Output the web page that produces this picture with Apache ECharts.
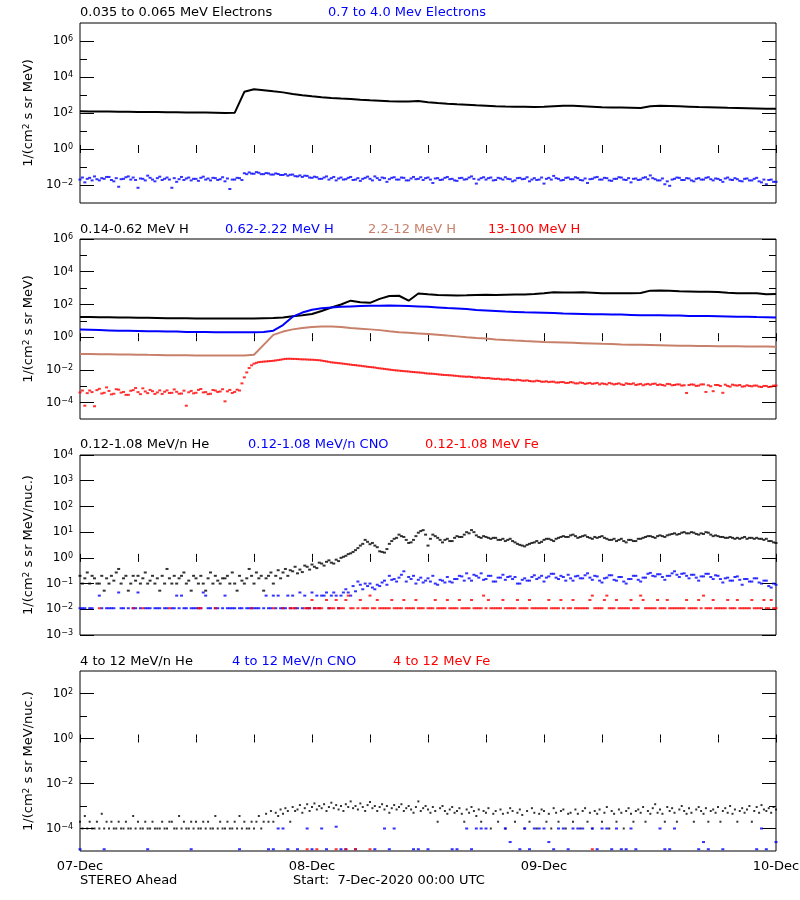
<!DOCTYPE html>
<html><head><meta charset="utf-8">
<script src="https://cdn.jsdelivr.net/npm/echarts@6/dist/echarts.min.js"></script>
<style>html,body{margin:0;padding:0;background:#fff}#c{width:800px;height:900px}</style>
</head><body><div id="c"></div>
<script>
// ---------------- DATA ----------------
// time axis: hours since 7-Dec-2020 00:00 UTC
const STEP_HOUR = 1;
const STEP_HALF = 0.5;
const STEP_QUARTER = 0.25;
const dayLabels = ['07-Dec', '08-Dec', '09-Dec', '10-Dec'];
const dayHours = [0, 24, 48, 72];

// Panel 1: electrons
const eLowFlux = [ // 0.035-0.065 MeV, hourly
  125,122,120,120,118,117,115,113,112,110,
  110,108,106,105,103,100,102,1500,2100,1850,
  1600,1400,1150,980,850,740,680,630,600,550,
  510,480,450,430,440,465,400,360,330,305,
  290,270,255,240,230,225,220,215,220,235,
  250,255,240,225,210,205,200,195,190,240,
  255,245,235,225,215,210,205,195,190,185,
  180,170,175];
const eHighFlux = [ // 0.7-4.0 MeV, quarter-hourly (rows = 3 h)
  .020,.026,.014,.022,.025,.018,.030,.021,.018,.024,.022,.028,
  .028,.019,.016,.024,.008,.021,.022,.027,.030,.020,.026,.019,
  .007,.023,.022,.018,.033,.025,.020,.016,.024,.029,.019,.022,
  .026,.020,.007,.024,.015,.021,.028,.019,.023,.026,.018,.022,
  .022,.017,.025,.029,.020,.023,.018,.025,.024,.019,.021,.027,
  .016,.023,.006,.020,.020,.025,.024,.019,.045,.040,.050,.043,
  .042,.052,.048,.040,.040,.046,.044,.038,.038,.044,.041,.036,
  .036,.040,.033,.037,.038,.031,.030,.034,.028,.033,.032,.026,
  .025,.029,.027,.022,.022,.026,.030,.020,.024,.028,.018,.023,
  .026,.020,.021,.025,.028,.019,.020,.024,.017,.022,.025,.029,
  .022,.018,.030,.024,.019,.026,.024,.015,.021,.025,.027,.020,
  .020,.026,.025,.018,.018,.023,.028,.021,.022,.027,.019,.024,
  .026,.020,.013,.023,.024,.019,.020,.025,.028,.021,.022,.018,
  .017,.024,.025,.020,.021,.026,.030,.022,.012,.020,.024,.027,
  .020,.024,.026,.018,.019,.025,.023,.020,.027,.022,.021,.016,
  .018,.024,.025,.021,.022,.027,.016,.020,.024,.019,.020,.026,
  .012,.022,.025,.020,.032,.024,.022,.018,.019,.025,.026,.021,
  .021,.027,.024,.019,.018,.023,.013,.021,.022,.026,.028,.020,
  .020,.025,.024,.018,.017,.022,.022,.027,.026,.020,.019,.024,
  .014,.022,.023,.019,.020,.025,.027,.021,.034,.024,.021,.018,
  .018,.023,.011,.016,.009,.020,.022,.026,.025,.019,.019,.024,
  .023,.018,.016,.022,.024,.020,.020,.025,.027,.021,.018,.023,
  .022,.019,.015,.023,.026,.020,.019,.024,.021,.017,.016,.022,
  .023,.018,.018,.022,.025,.016,.014,.020,.011,.019,.020,.015,
  .015];

// Panel 2: protons
const h1Flux = [ // 0.14-0.62 MeV H, hourly
  17,17,16.5,16.5,16,16,15.5,15.5,15,14.5,
  14.5,14.5,14,14,14,14,14,14,14,14.5,
  15,16,19,22,26,40,65,100,170,135,
  125,220,330,340,170,470,420,380,370,350,
  360,380,390,380,390,400,410,430,480,550,
  540,540,550,520,490,480,480,480,500,700,
  720,680,640,620,600,590,570,520,490,480,
  490,420,440];
const h2Flux = [ // 0.62-2.22 MeV H, hourly
  2.9,2.8,2.7,2.6,2.5,2.5,2.4,2.3,2.3,2.2,
  2.2,2.1,2.1,2.1,2.0,2.0,2.0,2.0,2.0,2.1,
  2.5,5.5,18,32,48,58,66,72,76,80,
  82,84,86,84,80,76,72,66,60,56,
  52,46,43,40,37,35,33,32,31,30,
  28,27,26,25,25,24,24,23,22,22,
  22,21,21,20,20,19.5,19,18.5,18,18,
  17,16.5,16];
const h3Flux = [ // 2.2-12 MeV H, hourly
  0.095,0.094,0.092,0.09,0.088,0.087,0.085,0.083,0.082,0.08,
  0.079,0.078,0.077,0.076,0.076,0.075,0.075,0.075,0.085,0.34,
  1.38,2.2,3.0,3.6,4.2,4.5,4.5,4.2,3.6,3.3,
  3.0,2.7,2.3,2.0,1.85,1.7,1.55,1.4,1.25,1.12,
  1.0,0.9,0.82,0.73,0.67,0.62,0.58,0.55,0.51,0.49,
  0.47,0.45,0.43,0.41,0.39,0.38,0.36,0.35,0.34,0.33,
  0.32,0.31,0.3,0.3,0.29,0.29,0.28,0.28,0.28,0.27,
  0.27,0.27,0.26];
const h4Flux = [ // 13-100 MeV H, quarter-hourly (rows = 3 h)
  4.2e-4,5.5e-4,6.5e-5,3.8e-4,5.5e-4,4.4e-4,6e-5,5.8e-4,7e-4,3.6e-4,4e-4,8.5e-4,
  5.2e-4,3.2e-4,3.5e-4,6.6e-4,6.2e-4,4.1e-4,4.5e-4,3.0e-4,3.0e-4,5.3e-4,5.8e-4,7.8e-4,
  4.4e-4,3.3e-4,7.5e-4,4.8e-4,3.8e-4,6.0e-4,5.0e-4,3.4e-4,4.2e-4,5.6e-4,3.4e-4,4.6e-4,
  5.6e-4,3.9e-4,4.0e-4,6.4e-4,4.6e-4,3.5e-4,3.6e-4,5.4e-4,6.5e-5,4.3e-4,5.2e-4,3.7e-4,
  4.0e-4,6.0e-4,6.8e-4,4.2e-4,4.4e-4,3.3e-4,3.5e-4,5.9e-4,5.5e-4,4.5e-4,4.8e-4,6.6e-4,
  1.2e-4,4.9e-4,6.0e-4,3.9e-4,4.5e-4,6.2e-4,5.5e-4,1.5e-3,3.5e-3,7e-3,1.3e-2,1.9e-2,
  2.4e-2,2.7e-2,3.0e-2,3.1e-2,3.2e-2,3.3e-2,3.4e-2,3.5e-2,3.6e-2,3.8e-2,4.0e-2,4.2e-2,
  4.5e-2,4.7e-2,4.8e-2,4.8e-2,4.7e-2,4.7e-2,4.6e-2,4.5e-2,4.4e-2,4.4e-2,4.3e-2,4.2e-2,
  4.2e-2,4.1e-2,4.0e-2,3.9e-2,3.7e-2,3.5e-2,3.3e-2,3.1e-2,2.9e-2,2.8e-2,2.7e-2,2.6e-2,
  2.5e-2,2.4e-2,2.3e-2,2.2e-2,2.1e-2,2.0e-2,1.95e-2,1.85e-2,1.8e-2,1.7e-2,1.65e-2,1.55e-2,
  1.5e-2,1.45e-2,1.4e-2,1.3e-2,1.25e-2,1.2e-2,1.15e-2,1.1e-2,1.05e-2,1.0e-2,9.6e-3,9.3e-3,
  9.0e-3,8.7e-3,8.4e-3,8.2e-3,8.0e-3,7.6e-3,7.4e-3,7.2e-3,7.0e-3,6.8e-3,6.6e-3,6.2e-3,
  6.0e-3,5.9e-3,5.8e-3,5.6e-3,5.4e-3,5.2e-3,5.0e-3,4.9e-3,4.8e-3,4.7e-3,4.6e-3,4.4e-3,
  4.3e-3,4.1e-3,4.0e-3,3.9e-3,3.8e-3,3.9e-3,3.7e-3,3.5e-3,3.4e-3,3.5e-3,3.3e-3,3.2e-3,
  3.1e-3,3.2e-3,3.0e-3,2.9e-3,2.8e-3,2.9e-3,2.7e-3,2.6e-3,2.6e-3,2.7e-3,2.5e-3,2.4e-3,
  2.3e-3,2.5e-3,2.4e-3,2.2e-3,2.2e-3,2.3e-3,2.1e-3,2.0e-3,2.0e-3,2.2e-3,2.1e-3,1.9e-3,
  1.9e-3,2.0e-3,1.8e-3,1.9e-3,1.9e-3,1.7e-3,1.7e-3,1.8e-3,1.8e-3,1.6e-3,1.6e-3,1.8e-3,
  1.7e-3,1.5e-3,1.5e-3,1.7e-3,1.6e-3,1.4e-3,1.5e-3,1.6e-3,1.4e-3,1.5e-3,1.6e-3,1.3e-3,
  1.5e-3,1.4e-3,1.3e-3,1.6e-3,1.45e-3,1.3e-3,1.4e-3,1.5e-3,1.3e-3,1.2e-3,1.5e-3,1.4e-3,
  1.35e-3,1.5e-3,1.2e-3,1.3e-3,1.4e-3,1.15e-3,1.3e-3,1.4e-3,1.25e-3,1.4e-3,1.45e-3,1.2e-3,
  1.3e-3,1.2e-3,1.1e-3,1.4e-3,1.35e-3,1.15e-3,1.2e-3,1.3e-3,1.3e-3,1.1e-3,1.15e-3,3.9e-4,
  1.2e-3,1.3e-3,1.25e-3,1.05e-3,1.1e-3,1.3e-3,1.3e-3,4.5e-4,1.15e-3,1.0e-3,5e-4,1.2e-3,
  1.2e-3,1.05e-3,4e-4,1.25e-3,1.05e-3,9.5e-4,1.25e-3,1.15e-3,1.1e-3,1.2e-3,9.5e-4,1.0e-3,
  1.15e-3,1.05e-3,1.0e-3,1.1e-3,1.1e-3,9.5e-4,9e-4,1.05e-3,1.05e-3,9e-4,9.5e-4,1.1e-3,
  1.1e-3];

// Panel 3: 0.12-1.08 MeV/n heavy ions, quarter-hourly (null = no count)
const heLowFlux = [
  0.2,0.1,0.16,0.27,0.1,0.2,0.16,0.1,0.1,0.2,0.053,0.16,
  0.1,0.2,0.13,0.27,0.37,0.1,0.16,0.2,0.053,0.1,0.2,0.13,
  0.2,0.1,0.16,0.27,0.1,0.13,0.2,0.1,0.16,0.053,0.2,0.1,
  0.37,0.16,0.1,0.2,0.1,0.16,0.2,0.27,0.1,0.13,0.053,0.2,
  0.16,0.1,0.2,0.1,0.053,0.16,0.27,0.1,0.2,0.13,0.1,0.16,
  0.16,0.2,0.1,0.27,0.1,0.053,0.2,0.13,0.1,0.16,0.37,0.2,
  0.1,0.27,0.16,0.2,0.053,0.16,0.2,0.27,0.1,0.2,0.33,0.16,
  0.27,0.37,0.2,0.33,0.3,0.45,0.25,0.35,0.28,0.5,0.45,0.35,
  0.55,0.45,0.4,0.65,0.6,0.5,0.7,0.8,0.65,0.6,0.85,0.75,
  1.0,1.1,1.2,1.4,1.5,1.7,2.0,2.4,3.0,3.5,5.0,4.2,
  3.4,3.8,3.0,2.6,1.8,1.7,1.6,2.2,3.5,4.5,5.5,6.0,
  8.0,7.0,6.5,5.0,3.8,4.0,5.0,7.0,9.5,11,12,8.0,
  3.0,5.5,8.0,7.0,6.0,5.0,4.0,5.0,5.5,4.5,4.5,6.0,
  7.0,6.5,6.5,8.0,10,9.0,12,10,7.5,6.5,6.0,7.0,
  6.5,6.0,5.5,6.0,6.0,5.0,5.0,5.5,4.5,5.0,5.5,4.5,
  4.0,3.5,3.2,3.0,2.8,3.2,3.5,3.8,4.0,4.5,3.8,4.2,
  5.0,5.5,5.5,5.0,4.5,5.5,6.0,6.5,7.0,6.5,6.5,7.5,
  8.0,7.0,6.0,6.5,7.0,7.5,6.5,6.0,5.5,6.5,6.0,6.5,
  7.0,6.0,5.5,5.0,5.0,5.5,4.5,5.0,5.5,4.5,4.0,5.0,
  5.0,4.5,4.5,5.5,5.5,6.0,6.5,7.0,7.0,6.5,6.0,7.0,
  7.5,7.0,6.5,7.5,8.0,8.5,9.0,8.0,8.5,9.5,10,9.0,
  9.0,10,9.5,8.5,8.0,9.0,8.5,10,9.5,8.0,7.0,7.5,
  7.0,6.5,6.5,6.0,6.0,6.5,6.0,5.5,6.0,5.5,6.0,6.5,
  5.5,6.0,6.0,5.5,6.0,5.5,5.5,5.0,5.5,4.5,4.5,4.0,
  3.8];
const cnoLowFlux = [
  0.011,0.011,0.011,null,0.011,0.011,null,null,0.034,0.011,null,0.011,
  0.011,0.011,0.011,null,0.045,0.011,0.011,null,0.011,null,0.011,0.011,
  0.045,0.011,null,0.011,0.011,0.011,null,0.011,0.011,0.011,null,0.011,
  0.011,null,0.011,0.011,0.034,0.011,0.034,0.011,0.011,null,0.011,0.011,
  0.011,0.011,0.011,0.045,0.034,0.011,0.011,null,0.011,0.011,null,0.011,
  0.034,0.011,0.011,0.011,0.011,null,0.011,0.011,null,0.011,0.011,0.011,
  0.011,0.011,0.011,null,0.011,0.034,0.011,0.011,0.034,0.011,0.034,0.011,
  0.011,0.011,0.034,0.011,0.034,0.011,0.011,0.045,0.011,0.034,0.011,0.011,
  0.045,0.011,0.034,0.011,0.034,0.034,0.045,0.011,0.034,0.045,0.034,0.011,
  0.034,0.045,0.06,0.045,0.034,0.08,0.05,0.12,0.09,0.06,0.1,0.08,
  0.1,0.07,0.06,0.09,0.08,0.11,0.13,0.09,0.2,0.14,0.15,0.12,
  0.17,0.22,0.3,0.12,0.18,0.15,0.2,0.1,0.14,0.17,0.11,0.13,
  0.16,0.12,0.2,0.1,0.09,0.14,0.13,0.11,0.18,0.12,0.11,0.15,
  0.15,0.2,0.19,0.13,0.25,0.16,0.13,0.22,0.2,0.17,0.25,0.14,
  0.15,0.2,0.2,0.12,0.12,0.17,0.17,0.22,0.14,0.18,0.19,0.15,
  0.18,0.1,0.1,0.14,0.16,0.13,0.13,0.18,0.21,0.15,0.17,0.2,
  0.12,0.17,0.19,0.24,0.24,0.17,0.15,0.2,0.18,0.13,0.22,0.16,
  0.13,0.19,0.2,0.16,0.16,0.21,0.25,0.17,0.14,0.2,0.19,0.13,
  0.11,0.16,0.17,0.21,0.21,0.14,0.13,0.18,0.18,0.12,0.1,0.15,
  0.15,0.2,0.2,0.14,0.12,0.17,0.17,0.24,0.26,0.2,0.19,0.23,
  0.23,0.18,0.14,0.2,0.2,0.25,0.3,0.22,0.18,0.24,0.25,0.2,
  0.16,0.22,0.22,0.17,0.13,0.19,0.19,0.24,0.24,0.18,0.15,0.21,
  0.2,0.15,0.11,0.16,0.17,0.13,0.13,0.18,0.19,0.14,0.09,0.15,
  0.15,0.12,0.12,0.16,0.16,0.11,0.1,0.13,0.13,0.08,0.07,0.1,
  0.09];
const feLowFlux = [
  null,null,null,null,null,null,null,null,0.011,null,null,null,
  null,null,null,null,null,null,null,null,null,null,0.011,null,
  null,null,0.011,null,null,null,null,null,null,null,null,null,
  null,0.011,null,null,null,null,null,null,null,null,null,null,
  null,0.011,0.011,null,null,null,null,null,0.011,null,null,null,
  null,null,null,null,null,null,null,null,null,null,null,0.011,
  null,null,null,null,null,null,null,null,0.011,null,null,null,
  0.011,null,null,0.011,0.011,0.011,null,null,null,0.011,0.011,0.011,
  0.023,0.011,0.011,0.011,0.011,null,0.023,0.011,0.011,0.011,0.023,0.011,
  0.011,0.011,0.023,0.034,0.011,0.011,null,0.011,0.023,0.011,0.011,0.011,
  0.034,0.011,0.011,0.023,0.011,0.011,0.011,0.011,0.011,0.023,0.011,0.011,
  0.011,0.011,0.023,0.011,0.011,0.011,0.011,0.023,0.011,0.011,0.011,null,
  0.011,0.011,0.011,0.023,0.011,0.011,0.011,0.011,0.023,0.011,0.011,0.011,
  0.011,0.023,0.011,0.011,0.011,0.011,0.023,0.011,0.011,0.011,0.011,0.034,
  0.011,0.023,0.011,0.011,0.011,0.011,0.011,0.023,0.011,0.011,0.011,0.011,
  0.011,0.023,0.011,0.011,0.011,0.011,0.023,0.011,0.011,0.011,0.011,0.011,
  0.011,0.011,0.023,0.011,0.011,0.011,0.011,0.023,0.011,null,0.011,0.011,
  0.023,0.011,0.011,0.011,0.011,0.011,0.011,0.023,0.034,0.011,0.011,0.011,
  0.011,0.023,0.034,0.011,0.011,0.011,0.023,0.011,0.011,0.011,0.011,0.011,
  0.023,0.011,0.011,0.011,0.034,0.023,0.011,0.011,0.011,0.011,0.011,0.023,
  0.011,0.011,0.011,0.023,0.011,0.011,0.011,0.011,0.011,0.011,0.011,0.023,
  0.011,0.011,0.011,0.011,0.023,0.011,0.034,0.011,0.011,0.011,0.023,0.011,
  0.011,0.011,0.011,0.011,0.023,0.011,0.011,0.011,0.023,0.011,0.011,0.011,
  0.011,0.011,0.023,0.011,0.011,0.011,0.011,0.023,0.011,0.011,0.023,0.011,
  0.011];

// Panel 4: 4-12 MeV/n heavy ions
const heHighFlux = [ // quarter-hourly
  2e-4,1e-4,3.6e-4,1e-4,2e-4,1e-4,1e-4,2e-4,1e-4,4.5e-4,1e-4,2e-4,
  1e-4,2e-4,1e-4,1e-4,2e-4,1e-4,1e-4,2e-4,1e-4,1e-4,3.6e-4,1e-4,
  2e-4,1e-4,1e-4,2e-4,1e-4,1e-4,2e-4,1e-4,1e-4,1e-4,2e-4,1e-4,
  1e-4,2e-4,2e-4,1e-4,1e-4,3.6e-4,1e-4,2e-4,1e-4,1e-4,2e-4,1e-4,
  2e-4,1e-4,1e-4,2e-4,1e-4,2e-4,1e-4,1e-4,3.6e-4,1e-4,2e-4,1e-4,
  1e-4,2e-4,1e-4,1e-4,2e-4,1e-4,3.6e-4,1e-4,2e-4,1e-4,1e-4,2e-4,
  1e-4,2e-4,3.6e-4,1e-4,2e-4,4.5e-4,2e-4,6e-4,2e-4,5e-4,3.6e-4,7e-4,
  4.5e-4,8e-4,6e-4,2e-4,9e-4,6e-4,7e-4,1.1e-3,5e-4,8e-4,1.2e-3,6e-4,
  9e-4,1.3e-3,7e-4,1e-3,8e-4,1.2e-3,6e-4,9e-4,1.4e-3,8e-4,1.1e-3,7e-4,
  1e-3,6e-4,1.2e-3,9e-4,1.6e-3,8e-4,1e-3,7e-4,1.3e-3,9e-4,6e-4,1.1e-3,
  1.5e-3,8e-4,1e-3,6e-4,9e-4,1.2e-3,7e-4,1e-3,5e-4,8e-4,1.1e-3,7e-4,
  9e-4,1.2e-3,6e-4,8e-4,1e-3,7e-4,5e-4,9e-4,1.6e-3,6e-4,8e-4,1e-3,
  7e-4,5e-4,9e-4,6e-4,2e-4,8e-4,1e-3,6e-4,4.5e-4,7e-4,9e-4,5e-4,
  6e-4,8e-4,4.5e-4,2e-4,7e-4,5e-4,9e-4,6e-4,3.6e-4,7e-4,2e-4,6e-4,
  5e-4,8e-4,1e-4,4.5e-4,6e-4,2e-4,7e-4,4.5e-4,1e-4,5e-4,8e-4,6e-4,
  2e-4,5e-4,7e-4,4e-4,1e-4,6e-4,2e-4,8e-4,5e-4,1e-4,4.5e-4,7e-4,
  6e-4,2e-4,4.5e-4,1e-4,8e-4,5e-4,2e-4,6e-4,7e-4,1e-4,4.5e-4,5e-4,
  2e-4,7e-4,4.5e-4,1e-4,6e-4,8e-4,2e-4,5e-4,1e-4,6e-4,4.5e-4,7e-4,
  2e-4,5e-4,9e-4,1e-4,6e-4,4.5e-4,2e-4,7e-4,5e-4,1e-4,6e-4,8e-4,
  4.5e-4,2e-4,6e-4,7e-4,5e-4,9e-4,2e-4,6e-4,4.5e-4,8e-4,1.2e-3,5e-4,
  7e-4,4.5e-4,2e-4,9e-4,6e-4,8e-4,5e-4,2e-4,7e-4,1e-3,6e-4,4.5e-4,
  8e-4,5e-4,2e-4,7e-4,9e-4,6e-4,4.5e-4,8e-4,2e-4,6e-4,7e-4,5e-4,
  9e-4,2e-4,6e-4,8e-4,5e-4,1e-3,4.5e-4,7e-4,2e-4,6e-4,8e-4,5e-4,
  7e-4,1e-3,2e-4,6e-4,9e-4,5e-4,1.1e-3,7e-4,6e-4,8e-4,5e-4,9e-4,
  7e-4];
const cnoHighFlux = [ // half-hourly
  1.2e-5,null,null,null,null,1.2e-5,null,null,null,null,
  null,null,null,null,1.2e-5,null,null,null,null,null,
  null,null,null,1.2e-5,null,null,null,null,null,null,
  null,null,null,1.2e-5,null,null,null,null,null,1.2e-5,
  1.2e-5,1e-4,1e-4,1.2e-5,null,1.2e-5,null,1e-4,1.2e-5,null,
  1e-4,1.2e-5,null,1.2e-4,1.2e-5,1.2e-5,null,1.2e-5,null,null,
  null,1.2e-5,null,1e-4,1.2e-5,1e-4,null,null,null,1.2e-5,
  1.2e-5,null,1.2e-5,null,null,null,null,1.2e-5,1.2e-5,null,
  1e-4,1.2e-5,1e-4,1e-4,1e-4,null,null,null,1e-4,2.5e-5,
  null,1.2e-5,1e-4,1.2e-5,1e-4,1e-4,1e-4,2.5e-5,1.2e-5,1e-4,
  1e-4,1.2e-5,1e-4,1e-4,1e-4,null,1e-4,1.2e-5,1e-4,1e-4,
  1.2e-5,1e-4,1.2e-5,1.2e-5,1e-4,1.2e-5,null,null,null,null,
  1e-4,1.2e-5,1.2e-5,1e-4,null,null,null,null,1.2e-5,2.5e-5,
  1.2e-5,null,null,1.2e-5,null,null,null,null,null,null,
  1.2e-5,1e-4,1.2e-5,null,2.5e-5];
const feHighHours = [23.5, 24.5, 26.5, 27.5, 28.5, 30, 53];
const feHighFlux = [1.2e-5, 1.2e-5, 1.2e-5, 1.2e-5, 1.2e-5, 1.2e-5, 1.2e-5];

// Titles and labels
const panelTitles = [
  [['0.035 to 0.065 MeV Electrons', 'black', 80], ['0.7 to 4.0 Mev Electrons', 'blue', 328]],
  [['0.14-0.62 MeV H', 'black', 80], ['0.62-2.22 MeV H', 'blue', 225], ['2.2-12 MeV H', 'brown', 368], ['13-100 MeV H', 'red', 488]],
  [['0.12-1.08 MeV/n He', 'black', 80], ['0.12-1.08 MeV/n CNO', 'blue', 248], ['0.12-1.08 MeV Fe', 'red', 425]],
  [['4 to 12 MeV/n He', 'black', 80], ['4 to 12 MeV/n CNO', 'blue', 232], ['4 to 12 MeV Fe', 'red', 393]]
];
const yNames = ['1/(cm{s|2} s sr MeV)', '1/(cm{s|2} s sr MeV)', '1/(cm{s|2} s sr MeV/nuc.)', '1/(cm{s|2} s sr MeV/nuc.)'];
const yExpRange = [[-3, 7], [-5, 6], [-3, 4], [-5, 3]];
const yMajorExp = [[-2, 0, 2, 4, 6], [-4, -2, 0, 2, 4, 6], [-3, -2, -1, 0, 1, 2, 3, 4], [-4, -2, 0, 2]];
const yMinorExp = [[-1, 1, 3, 5], [-3, -1, 1, 3, 5], [], [-3, -1, 1]];
const footerLeft = 'STEREO Ahead';
const footerStart = 'Start:  7-Dec-2020 00:00 UTC';

// ---------------- STYLE ----------------
const COLORS = { black: '#000000', blue: '#0000ff', brown: '#c8806a', red: '#ff0000' };
const FONT = 'DejaVu Sans';
const GRID_TOPS = [23, 239, 455, 671];
const GRID_H = 180, GRID_L = 80, GRID_W = 696;

function pairs(values, step) {
  const out = [];
  values.forEach((v, i) => { if (v != null) out.push([i * step, v]); });
  return out;
}
function pairsAt(hours, values) { return hours.map((h, i) => [h, values[i]]); }

const seriesDefs = [
  { p: 0, data: pairs(eLowFlux, STEP_HOUR), c: 'black', kind: 'line' },
  { p: 0, data: pairs(eHighFlux, STEP_QUARTER), c: 'blue', kind: 'dot', size: [3, 2] },
  { p: 1, data: pairs(h1Flux, STEP_HOUR), c: 'black', kind: 'line' },
  { p: 1, data: pairs(h2Flux, STEP_HOUR), c: 'blue', kind: 'line' },
  { p: 1, data: pairs(h3Flux, STEP_HOUR), c: 'brown', kind: 'line' },
  { p: 1, data: pairs(h4Flux, STEP_QUARTER), c: 'red', kind: 'dot', size: [3, 2] },
  { p: 2, data: pairs(heLowFlux, STEP_QUARTER), c: 'black', kind: 'dot', size: [3, 2] },
  { p: 2, data: pairs(cnoLowFlux, STEP_QUARTER), c: 'blue', kind: 'dot', size: [3, 2] },
  { p: 2, data: pairs(feLowFlux, STEP_QUARTER), c: 'red', kind: 'dot', size: [3, 2] },
  { p: 3, data: pairs(heHighFlux, STEP_QUARTER), c: 'black', kind: 'dot', size: [2, 2] },
  { p: 3, data: pairs(cnoHighFlux, STEP_HALF), c: 'blue', kind: 'dot', size: [3, 2] },
  { p: 3, data: pairsAt(feHighHours, feHighFlux), c: 'red', kind: 'dot', size: [3, 2] }
];

const expLabel = v => '{b|10}{e|' + (v < 0 ? '\u2212' + (-v) : String(v)) + '}';
const labelRich = {
  b: { fontFamily: FONT, fontSize: 12, lineHeight: 12, color: '#000' },
  e: { fontFamily: FONT, fontSize: 8, lineHeight: 8, verticalAlign: 'top', color: '#000' }
};

const grids = [], xAxes = [], yAxes = [];
for (let i = 0; i < 4; i++) {
  grids.push({ left: GRID_L, top: GRID_TOPS[i], width: GRID_W, height: GRID_H, show: true,
    borderColor: '#000', borderWidth: 1, backgroundColor: 'rgba(0,0,0,0)', containLabel: false, outerBoundsMode: 'none' });
  ['bottom', 'top'].forEach(pos => {
    const isLabelAxis = (i === 3 && pos === 'bottom');
    xAxes.push({ type: 'value', gridIndex: i, position: pos, min: 0, max: 72, interval: 6,
      axisLine: { show: false }, splitLine: { show: false },
      axisTick: { show: true, inside: true, length: 4, lineStyle: { color: '#000', width: 1 } },
      axisLabel: isLabelAxis ? {
        show: true, margin: 9, color: '#000', fontFamily: FONT, fontSize: 13,
        showMinLabel: true, showMaxLabel: true, hideOverlap: false,
        formatter: v => { const k = dayHours.indexOf(v); return k >= 0 ? dayLabels[k] : ''; }
      } : { show: false } });
  });
  const [e0, e1] = yExpRange[i];
  // data axis (log scale)
  yAxes.push({ type: 'log', logBase: 10, gridIndex: i, position: 'left', min: Math.pow(10, e0), max: Math.pow(10, e1),
    axisLine: { show: false }, axisTick: { show: false }, axisLabel: { show: false }, splitLine: { show: false } });
  // tick/label axes (decade exponent space, aligned with the log axis)
  const mk = (pos, vals, len, withLabel) => ({
    type: 'value', gridIndex: i, position: pos, offset: 0, min: e0, max: e1,
    axisLine: { show: false }, splitLine: { show: false },
    axisTick: { show: vals.length > 0, inside: true, length: len, customValues: vals, lineStyle: { color: '#000', width: 1 } },
    axisLabel: withLabel ? { show: true, customValues: vals, margin: 7, formatter: expLabel, rich: labelRich, color: '#000' } : { show: false },
    name: withLabel ? yNames[i] : '', nameLocation: 'middle', nameRotate: 90, nameGap: 35,
    nameTextStyle: { fontFamily: FONT, fontSize: 13, color: '#000',
      rich: { s: { fontFamily: FONT, fontSize: 9, lineHeight: 9, verticalAlign: 'top', color: '#000' } } }
  });
  yAxes.push(mk('left', yMajorExp[i], 14, true));
  yAxes.push(mk('left', yMinorExp[i], 7, false));
  yAxes.push(mk('right', yMajorExp[i], 14, false));
  yAxes.push(mk('right', yMinorExp[i], 7, false));
}

const series = seriesDefs.map(d => {
  const base = { xAxisIndex: d.p * 2, yAxisIndex: d.p * 5, data: d.data, silent: true, animation: false };
  if (d.kind === 'line') {
    return Object.assign(base, { type: 'line', showSymbol: false, symbol: 'none',
      lineStyle: { color: COLORS[d.c], width: 2 }, itemStyle: { color: COLORS[d.c] } });
  }
  return Object.assign(base, { type: 'scatter', symbol: 'rect', symbolSize: d.size,
    itemStyle: { color: COLORS[d.c] } });
});

const titleY = [13, 230, 445, 662];
const graphics = [];
panelTitles.forEach((row, i) => row.forEach(([txt, col, x]) => {
  graphics.push({ type: 'text', x: x, y: titleY[i], silent: true,
    style: { text: txt, fill: COLORS[col], fontFamily: FONT, fontSize: 13, verticalAlign: 'middle', textVerticalAlign: 'middle', align: 'left' } });
}));
graphics.push({ type: 'text', x: 80, y: 881, style: { text: footerLeft, fill: '#000', fontFamily: FONT, fontSize: 13, verticalAlign: 'middle', textVerticalAlign: 'middle' } });
graphics.push({ type: 'text', x: 293, y: 881, style: { text: footerStart, fill: '#000', fontFamily: FONT, fontSize: 13, verticalAlign: 'middle', textVerticalAlign: 'middle' } });

const chart = echarts.init(document.getElementById('c'), null, { renderer: 'canvas' });
chart.setOption({
  animation: false,
  backgroundColor: '#fff',
  textStyle: { fontFamily: FONT },
  grid: grids, xAxis: xAxes, yAxis: yAxes, series: series, graphic: graphics
});
</script></body></html>
